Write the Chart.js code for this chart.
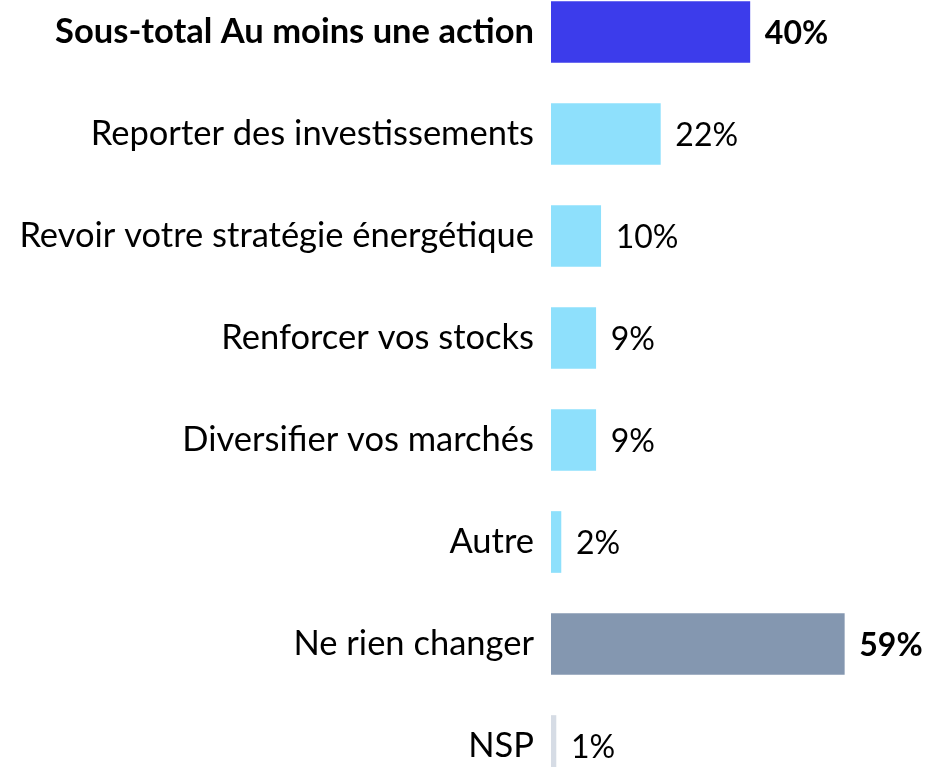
<!DOCTYPE html>
<html><head><meta charset="utf-8">
<script src="https://cdn.jsdelivr.net/npm/chart.js@4"></script>
<style>
html,body{margin:0;padding:0;background:#fff;overflow:hidden;width:930px;height:767px;}
#c{position:absolute;left:0;top:-19px;}
</style></head><body>
<canvas id="c" width="930" height="816"></canvas>
<script>
const categories = ["Sous-total Au moins une action","Reporter des investissements","Revoir votre stratégie énergétique","Renforcer vos stocks","Diversifier vos marchés","Autre","Ne rien changer","NSP"];
const values = [40,22,10,9,9,2,59,1];
const colors = ["#3C3CEB","#8EE0FC","#8EE0FC","#8EE0FC","#8EE0FC","#8EE0FC","#8497B0","#D6DCE5"];
const boldLabels = [true,false,false,false,false,false,false,false];
const boldValues = [true,false,false,false,false,false,true,false];
const valueLabels = values.map(v => v + "%");

const FONT = "Lato, 'Open Sans', sans-serif";
const labelPlugin = {
  id:'vals',
  afterDatasetsDraw(chart){
    const ctx = chart.ctx;
    const meta = chart.getDatasetMeta(0);
    ctx.save();
    ctx.fillStyle = "#000";
    ctx.textBaseline = "middle";
    ctx.textAlign = "left";
    meta.data.forEach((bar,i)=>{
      ctx.font = (boldValues[i] ? "bold " : "") + "32px " + FONT;
      ctx.fillText(valueLabels[i], bar.x + 15, bar.y + 2);
    });
    ctx.restore();
  }
};

new Chart(document.getElementById('c'), {
  type:'bar',
  data:{labels:categories, datasets:[{data:values, backgroundColor:colors, barThickness:61, borderWidth:0}]},
  options:{
    indexAxis:'y',
    responsive:false, animation:false,
    layout:{padding:{left:0,right:31,top:0,bottom:0}},
    plugins:{legend:{display:false}, tooltip:{enabled:false}},
    scales:{
      x:{min:0,max:70,display:false},
      y:{
        grid:{display:false}, border:{display:false},
        afterFit(axis){ axis.width = 551; axis.paddingTop = 0; axis.paddingBottom = 0; },
        ticks:{
          padding:9, color:"#000",
          font:(c)=>({family:FONT, size:34.5, weight: boldLabels[c.index] ? 'bold' : 'normal'})
        }
      }
    }
  },
  plugins:[labelPlugin]
});
</script>
</body></html>
